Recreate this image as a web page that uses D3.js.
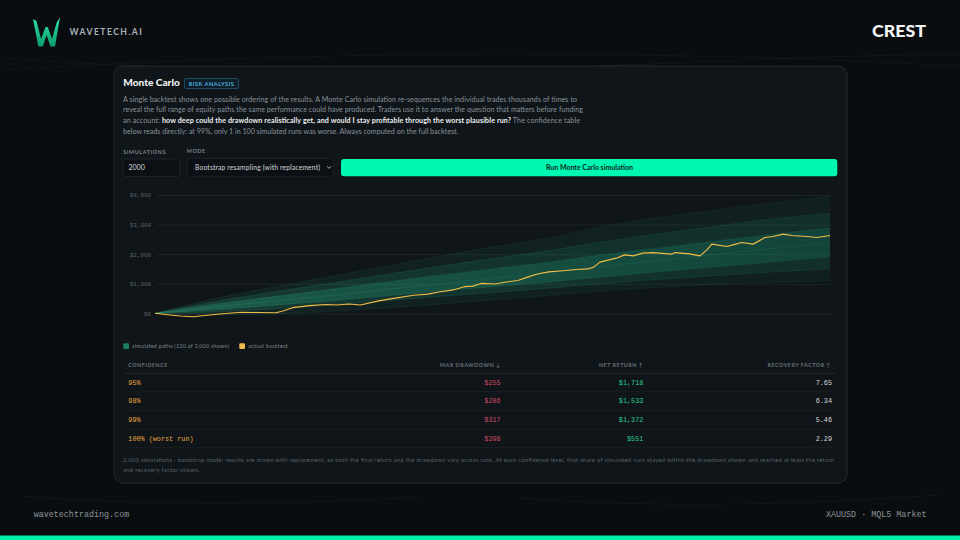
<!DOCTYPE html>
<html>
<head>
<meta charset="utf-8">
<script src="https://cdn.jsdelivr.net/npm/d3@7"></script>
<style>
  html, body { margin: 0; padding: 0; background: #0a0d10; }
  svg { display: block; }
</style>
</head>
<body>
<svg id="page" width="960" height="540"></svg>
<script>
// ---- data ----
const simTrades = [0, 20, 40, 60, 80, 100, 120, 140, 160, 180, 200, 220, 240];
const simMin = [0, -60, -20, 50, 170, 300, 450, 600, 760, 880, 980, 1050, 1080];
const simP10 = [0, 40, 140, 260, 410, 560, 700, 850, 1010, 1150, 1280, 1400, 1500];
const simP25 = [0, 110, 250, 400, 570, 740, 900, 1060, 1240, 1410, 1580, 1740, 1900];
const simP50 = [0, 200, 390, 580, 780, 980, 1180, 1380, 1600, 1800, 2000, 2200, 2380];
const simP75 = [0, 290, 540, 780, 1030, 1270, 1500, 1730, 1990, 2220, 2450, 2680, 2880];
const simP90 = [0, 370, 690, 980, 1280, 1570, 1850, 2120, 2430, 2700, 2950, 3200, 3380];
const simMax = [0, 470, 850, 1200, 1560, 1900, 2250, 2550, 2950, 3250, 3500, 3750, 3950];

const backtestTrade = [0, 3.6, 9, 13.5, 16, 19.5, 25, 31, 37, 43, 45.5, 49, 55, 60.5, 64.7, 69, 73,
  80, 86, 92, 97, 101, 106, 110, 113, 116, 121, 125, 129, 133, 136, 140, 144, 150, 154, 156, 158.2,
  164, 167, 170, 173.5, 177, 183.7, 184.9, 190, 193.8, 196.2, 198, 203.3, 205.5, 208.6, 212.7,
  216.9, 219.8, 223.4, 226.4, 231.7, 235.3, 240];
const backtestEquity = [0, -40, -90, -115, -90, -58, -7, 34, 27, 20, 78, 190, 258, 298, 281, 315, 281,
  430, 520, 610, 650, 720, 790, 900, 920, 1010, 990, 1060, 1110, 1240, 1330, 1400, 1430, 1480, 1500,
  1560, 1729, 1864, 1976, 1942, 2034, 2054, 2000, 2054, 2010, 1942, 2146, 2339, 2258, 2315, 2393,
  2339, 2563, 2597, 2678, 2631, 2597, 2563, 2631];

const yTicks = [0, 1000, 2000, 3000, 4000];

const confidence = ["95%", "98%", "99%", "100% (worst run)"];
const maxDrawdown = [255, 286, 317, 398];
const netReturn = [1718, 1533, 1372, 551];
const recoveryFactor = [7.65, 6.34, 5.46, 2.29];

const descLines = [
  "A single backtest shows one possible ordering of the results. A Monte Carlo simulation re-sequences the individual trades thousands of times to",
  "reveal the full range of equity paths the same performance could have produced. Traders use it to answer the question that matters before funding"
];

// ---- page ----
const SANS = "Lato, 'Noto Sans', sans-serif";
const MONO = "'Liberation Mono', 'DejaVu Sans Mono', monospace";
const svg = d3.select("#page");
const defs = svg.append("defs");

svg.append("rect").attr("width", 960).attr("height", 540).attr("fill", "#0a0d10");

// faint background arcs
const arcs = svg.append("g").attr("fill", "none").attr("stroke", "#ffffff").attr("stroke-opacity", 0.035);
arcs.append("path").attr("d", "M0,70 Q480,40 960,66");
arcs.append("path").attr("d", "M0,58 Q300,80 700,62 T960,72");
arcs.append("path").attr("d", "M20,496 Q200,510 420,497");
arcs.append("path").attr("d", "M520,498 Q700,512 940,495");

// logo
const grad = defs.append("linearGradient").attr("id", "logoGrad")
  .attr("x1", 0).attr("y1", 0).attr("x2", 0).attr("y2", 1);
grad.append("stop").attr("offset", "0%").attr("stop-color", "#2fe6a8");
grad.append("stop").attr("offset", "100%").attr("stop-color", "#0c9a6c");
svg.append("path")
  .attr("d", "M33,19 L36.5,21 L41,39 L45.5,27 L47.8,27 L52,39 L56.5,23 L60,17 L55,46.5 L50.5,46.5 L46.6,35 L42.8,46.5 L38.4,46.5 Z")
  .attr("fill", "url(#logoGrad)");
svg.append("text").attr("x", 69.5).attr("y", 35)
  .attr("font-family", SANS).attr("font-weight", 700).attr("font-size", 8.6)
  .attr("letter-spacing", 1.45).attr("fill", "#a9b1b7").text("WAVETECH.AI");

svg.append("text").attr("x", 926).attr("y", 37.3).attr("text-anchor", "end")
  .attr("font-family", SANS).attr("font-weight", 900).attr("font-size", 16.5)
  .attr("textLength", 54).attr("lengthAdjust", "spacingAndGlyphs")
  .attr("fill", "#f2f4f5").text("CREST");

// card
svg.append("rect").attr("x", 114).attr("y", 66).attr("width", 733).attr("height", 417).attr("rx", 9)
  .attr("fill", "#101519").attr("stroke", "#1f2c33").attr("stroke-width", 1);

svg.append("text").attr("x", 123.3).attr("y", 86)
  .attr("font-family", SANS).attr("font-weight", 900).attr("font-size", 10.2)
  .attr("textLength", 56.5).attr("lengthAdjust", "spacingAndGlyphs")
  .attr("fill", "#f0f3f4").text("Monte Carlo");

svg.append("rect").attr("x", 184.5).attr("y", 78.5).attr("width", 54).attr("height", 10).attr("rx", 1.5)
  .attr("fill", "#0e1d26").attr("stroke", "#1d4a5e");
svg.append("text").attr("x", 211.5).attr("y", 85.8).attr("text-anchor", "middle")
  .attr("font-family", SANS).attr("font-weight", 700).attr("font-size", 5.6)
  .attr("letter-spacing", 0.5).attr("fill", "#4fb6e4").text("RISK ANALYSIS");

// description
const desc = svg.append("g").attr("font-family", SANS).attr("font-size", 7.1).attr("fill", "#88929a");
const descRight = [577, 583, 580];
descLines.forEach((t, i) => {
  desc.append("text").attr("x", 123).attr("y", 101.5 + i * 10.7)
    .attr("textLength", descRight[i] - 123).attr("lengthAdjust", "spacing").text(t);
});
const l3 = desc.append("text").attr("x", 123).attr("y", 101.5 + 2 * 10.7)
  .attr("textLength", descRight[2] - 123).attr("lengthAdjust", "spacing");
l3.append("tspan").text("an account: ");
l3.append("tspan").attr("font-weight", 700).attr("fill", "#eef1f2")
  .text("how deep could the drawdown realistically get, and would I stay profitable through the worst plausible run?");
l3.append("tspan").text(" The confidence table");
desc.append("text").attr("x", 123).attr("y", 101.5 + 3 * 10.7)
  .text("below reads directly: at 99%, only 1 in 100 simulated runs was worse. Always computed on the full backtest.");

// controls
const lab = svg.append("g").attr("font-family", SANS).attr("font-weight", 700).attr("font-size", 5.4)
  .attr("letter-spacing", 0.6).attr("fill", "#7b858c");
lab.append("text").attr("x", 123.3).attr("y", 153.6).text("SIMULATIONS");
lab.append("text").attr("x", 186.7).attr("y", 152.7).text("MODE");

svg.append("rect").attr("x", 123).attr("y", 159).attr("width", 57).attr("height", 17.5).attr("rx", 2)
  .attr("fill", "#0c1014").attr("stroke", "#1a2228");
svg.append("text").attr("x", 128.5).attr("y", 170.2)
  .attr("font-family", SANS).attr("font-size", 7).attr("fill", "#d4d9dc").text("2000");

svg.append("rect").attr("x", 187.3).attr("y", 158.5).attr("width", 146).attr("height", 17.8).attr("rx", 2)
  .attr("fill", "#0c1014").attr("stroke", "#1a2228");
svg.append("text").attr("x", 195).attr("y", 170)
  .attr("font-family", SANS).attr("font-size", 6.7).attr("fill", "#d4d9dc")
  .attr("textLength", 125).attr("lengthAdjust", "spacing")
  .text("Bootstrap resampling (with replacement)");
svg.append("path").attr("d", "M327,166.3 L329,168.3 L331,166.3")
  .attr("fill", "none").attr("stroke", "#c9cfd3").attr("stroke-width", 0.9);

svg.append("rect").attr("x", 341).attr("y", 159).attr("width", 496.3).attr("height", 17.3).attr("rx", 3)
  .attr("fill", "#00f7b1");
svg.append("text").attr("x", 589.5).attr("y", 170.4).attr("text-anchor", "middle")
  .attr("font-family", SANS).attr("font-weight", 700).attr("font-size", 7)
  .attr("fill", "#0b2a21").text("Run Monte Carlo simulation");

// ---- chart ----
const x = d3.scaleLinear().domain([0, 240]).range([155, 830]);
const y = d3.scaleLinear().domain([0, 4000]).range([313.3, 195]);

const yAxis = svg.append("g").attr("transform", "translate(157,0)")
  .call(d3.axisLeft(y).tickValues(yTicks).tickSize(-675).tickPadding(6).tickFormat(d3.format("$,")));
yAxis.select(".domain").remove();
yAxis.selectAll("line").attr("stroke", "#1c252b").attr("stroke-width", 1);
yAxis.selectAll("text").attr("font-family", MONO).attr("font-size", 5.9).attr("fill", "#59636a");

// band density fades left to right as the paths spread out
const bandGrad = defs.append("linearGradient").attr("id", "bandGrad")
  .attr("gradientUnits", "userSpaceOnUse").attr("x1", 155).attr("x2", 830).attr("y1", 0).attr("y2", 0);
bandGrad.append("stop").attr("offset", "0%").attr("stop-color", "#3fe8b0");
bandGrad.append("stop").attr("offset", "30%").attr("stop-color", "#25c893");
bandGrad.append("stop").attr("offset", "100%").attr("stop-color", "#1a9e7a");

const band = svg.append("g");
const areaOf = (lo, hi) => d3.area()
  .x((d, i) => x(simTrades[i]))
  .y0((d, i) => y(lo[i]))
  .y1((d, i) => y(hi[i]))
  .curve(d3.curveMonotoneX)(simTrades);
band.append("path").attr("d", areaOf(simMin, simMax)).attr("fill", "url(#bandGrad)").attr("fill-opacity", 0.07);
band.append("path").attr("d", areaOf(simP10, simP90)).attr("fill", "url(#bandGrad)").attr("fill-opacity", 0.12);
band.append("path").attr("d", areaOf(simP25, simP75)).attr("fill", "url(#bandGrad)").attr("fill-opacity", 0.2);

const quantLine = d3.line().x((d, i) => x(simTrades[i])).y(d => y(d)).curve(d3.curveMonotoneX);
[simMin, simP10, simP25, simP50, simP75, simP90, simMax].forEach((q, k) => {
  band.append("path").attr("d", quantLine(q)).attr("fill", "none")
    .attr("stroke", "url(#bandGrad)").attr("stroke-opacity", k === 0 || k === 6 ? 0.12 : 0.2)
    .attr("stroke-width", 0.6);
});

svg.append("path")
  .attr("d", d3.line().x((d, i) => x(backtestTrade[i])).y(d => y(d))(backtestEquity))
  .attr("fill", "none").attr("stroke", "#f2bb45").attr("stroke-width", 1.15)
  .attr("stroke-linejoin", "round");

// legend
const leg = svg.append("g").attr("font-family", SANS).attr("font-size", 5.4).attr("fill", "#7b858c");
leg.append("rect").attr("x", 123.3).attr("y", 343.3).attr("width", 5.7).attr("height", 5.7).attr("rx", 1).attr("fill", "#1f7e5f");
leg.append("text").attr("x", 132.3).attr("y", 348).attr("textLength", 96.7).attr("lengthAdjust", "spacing")
  .text("simulated paths (120 of 2,000 shown)");
leg.append("rect").attr("x", 239.3).attr("y", 343.3).attr("width", 5.7).attr("height", 5.7).attr("rx", 1).attr("fill", "#f2bb45");
leg.append("text").attr("x", 248.3).attr("y", 348).attr("textLength", 39.4).attr("lengthAdjust", "spacing")
  .text("actual backtest");

// ---- table ----
const cols = [
  { head: "CONFIDENCE", x: 128.3, anchor: "start" },
  { head: "MAX DRAWDOWN \u2193", x: 500.7, anchor: "end" },
  { head: "NET RETURN \u2191", x: 643.3, anchor: "end" },
  { head: "RECOVERY FACTOR \u2191", x: 831, anchor: "end" }
];
const tbl = svg.append("g");
tbl.selectAll("text.head").data(cols).join("text").attr("class", "head")
  .attr("x", d => d.x).attr("y", 367).attr("text-anchor", d => d.anchor)
  .attr("font-family", SANS).attr("font-weight", 700).attr("font-size", 5.3)
  .attr("letter-spacing", 0.55).attr("fill", "#69737a").text(d => d.head);

const ruleY = [373.3, 391.7, 410.3, 429, 447.7];
tbl.selectAll("line").data(ruleY).join("line")
  .attr("x1", 124).attr("x2", 836).attr("y1", d => d).attr("y2", d => d)
  .attr("stroke", (d, i) => i === 0 ? "#232e35" : "#1a2329").attr("stroke-width", 0.8);

const rowY = [384.6, 403, 421.6, 440.6];
const money = d3.format("$,");
const cells = tbl.append("g").attr("font-family", MONO).attr("font-size", 6.8);
cells.selectAll("text.c").data(confidence).join("text").attr("class", "c")
  .attr("x", cols[0].x).attr("y", (d, i) => rowY[i]).attr("fill", "#e8a63c").text(d => d);
cells.selectAll("text.dd").data(maxDrawdown).join("text").attr("class", "dd")
  .attr("x", cols[1].x).attr("y", (d, i) => rowY[i]).attr("text-anchor", "end")
  .attr("fill", "#d04a66").text(d => money(d));
cells.selectAll("text.nr").data(netReturn).join("text").attr("class", "nr")
  .attr("x", cols[2].x).attr("y", (d, i) => rowY[i]).attr("text-anchor", "end")
  .attr("fill", "#27cf93").text(d => money(d));
cells.selectAll("text.rf").data(recoveryFactor).join("text").attr("class", "rf")
  .attr("x", cols[3].x + 1).attr("y", (d, i) => rowY[i]).attr("text-anchor", "end")
  .attr("fill", "#d6dadd").text(d => d.toFixed(2));

// footnote
const foot = svg.append("g").attr("font-family", SANS).attr("font-size", 5.7).attr("fill", "#59636a");
foot.append("text").attr("x", 123).attr("y", 462.2).attr("textLength", 711).attr("lengthAdjust", "spacing")
  .text("2,000 simulations \u00b7 bootstrap mode: results are drawn with replacement, so both the final return and the drawdown vary across runs. At each confidence level, that share of simulated runs stayed within the drawdown shown and reached at least the return");
foot.append("text").attr("x", 123).attr("y", 471.6).attr("textLength", 77).attr("lengthAdjust", "spacing")
  .text("and recovery factor shown.");

// footer
svg.append("text").attr("x", 33.7).attr("y", 517)
  .attr("font-family", MONO).attr("font-size", 8.4).attr("fill", "#8d959b").text("wavetechtrading.com");
svg.append("text").attr("x", 926.5).attr("y", 517).attr("text-anchor", "end")
  .attr("font-family", MONO).attr("font-size", 8.4).attr("fill", "#8d959b").text("XAUUSD \u00b7 MQL5 Market");
svg.append("rect").attr("x", 0).attr("y", 535.5).attr("width", 960).attr("height", 4.5).attr("fill", "#00f0ac");
</script>
</body>
</html>
